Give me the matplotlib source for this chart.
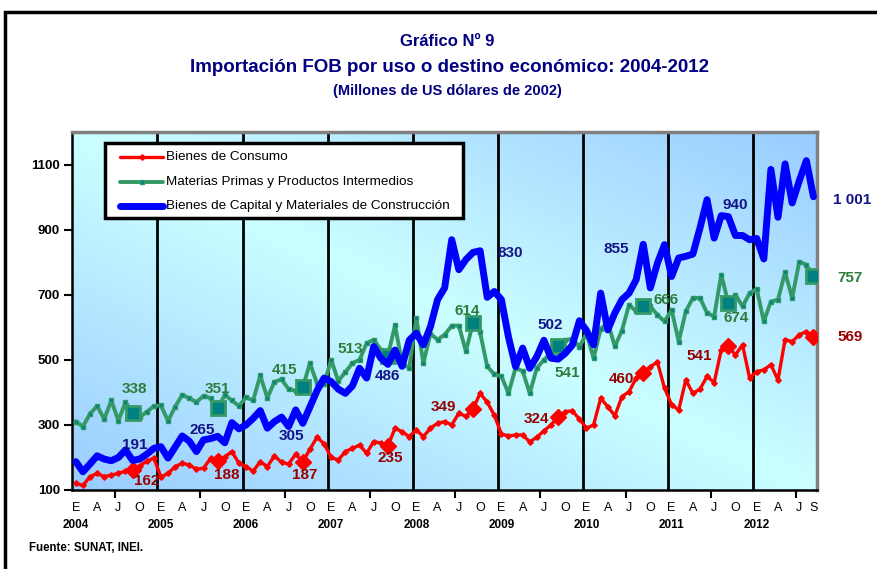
import numpy as np
import matplotlib
matplotlib.use('Agg')
from matplotlib import pyplot as plt
from matplotlib.patches import Rectangle
from matplotlib.lines import Line2D

# Importacion FOB por uso o destino economico, ene-2004 a set-2012
# (millones de US$ de 2002)
consumo = [120, 114, 141, 151, 141, 146, 151, 158, 162, 175, 188, 198,
           140, 151, 172, 182, 177, 164, 167, 197, 188, 202, 218, 182,
           172, 158, 187, 172, 205, 185, 180, 210, 187, 225, 262, 242,
           200, 192, 218, 228, 238, 213, 249, 244, 235, 290, 279, 264,
           285, 264, 290, 305, 310, 300, 336, 326, 349, 397, 370, 330,
           272, 266, 269, 269, 248, 262, 282, 300, 324, 341, 343, 318,
           290, 300, 382, 356, 328, 387, 402, 444, 460, 479, 493, 413,
           362, 346, 438, 397, 410, 449, 430, 531, 541, 515, 546, 444,
           464, 469, 485, 438, 562, 556, 577, 587, 569]

materias = [310, 295, 334, 358, 318, 375, 313, 370, 338, 324, 340, 358,
            360, 312, 356, 392, 382, 370, 389, 382, 351, 392, 375, 358,
            385, 375, 452, 383, 432, 440, 410, 405, 415, 490, 428, 425,
            500, 435, 462, 490, 500, 551, 562, 531, 513, 606, 490, 474,
            628, 490, 580, 562, 577, 605, 605, 526, 614, 584, 480, 455,
            450, 397, 475, 465, 397, 475, 500, 522, 541, 560, 565, 540,
            580, 505, 595, 615, 541, 590, 669, 649, 666, 664, 638, 618,
            654, 556, 649, 690, 690, 644, 633, 762, 674, 700, 664, 705,
            718, 618, 679, 685, 769, 690, 802, 792, 757]

capital = [187, 156, 180, 205, 195, 190, 200, 223, 191, 195, 210, 228,
           233, 198, 232, 266, 250, 218, 254, 258, 265, 245, 307, 288,
           300, 320, 344, 290, 310, 324, 295, 346, 305, 355, 405, 444,
           433, 410, 397, 420, 474, 444, 541, 505, 486, 530, 480, 560,
           582, 546, 602, 685, 721, 869, 777, 808, 830, 835, 692, 710,
           685, 570, 479, 536, 474, 510, 560, 505, 502, 520, 545, 620,
           590, 546, 705, 592, 644, 685, 705, 746, 855, 721, 797, 854,
           756, 813, 818, 825, 905, 992, 874, 943, 940, 882, 882, 869,
           873, 810, 1085, 938, 1102, 982, 1050, 1112, 1001]

anios = ['2004', '2005', '2006', '2007', '2008', '2009', '2010', '2011', '2012']
letras_mes = ['E', 'A', 'J', 'O']
yticks = [100, 300, 500, 700, 900, 1100]
nombres = ['Bienes de Consumo', 'Materias Primas y Productos Intermedios',
           'Bienes de Capital y Materiales de Construcción']

# etiquetas de setiembre: (texto, desplazamiento en pixeles)
etq_consumo = [('162', 14, -11), ('188', 9, -14), ('187', 2, -13), ('235', 2, -12),
               ('349', -30, 2), ('324', -22, -2), ('460', -22, -6), ('541', -29, -10),
               ('569', 37, 0)]
etq_materias = [('338', 2, 24), ('351', 0, 19), ('415', -18, 17), ('513', -38, 7),
                ('614', -6, 12), ('541', 9, -27), ('666', 23, 6), ('674', 8, -15),
                ('757', 37, -2)]
etq_capital = [('191', 2, 15), ('265', -16, 6), ('305', -11, -13), ('486', 0, -12),
               ('830', 37, -1), ('502', -8, 34), ('855', -27, -5), ('940', 7, 12),
               ('1 001', 39, -3)]

rojo = '#FF0000'
verde = '#339966'
azul = '#0000FF'
titulo_c = '#000080'
arial = ['Liberation Sans', 'DejaVu Sans']

W, H = 877, 569


def fx(p):
    return p / W


def fy(p):
    return 1 - p / H


fig = plt.figure(figsize=(W / 100, H / 100), dpi=100)
x0, x1, ytop, ybot = 72.3, 817, 132, 490
ax = fig.add_axes([fx(x0), fy(ybot), fx(x1) - fx(x0), fy(ytop) - fy(ybot)])

# marco exterior
fig.add_artist(Rectangle((fx(5), -0.1), 1.2, fy(12) + 0.1, transform=fig.transFigure,
                         fill=False, edgecolor='black', lw=2.5))

# fondo degradado del area de trazado
gx, gy = np.meshgrid(np.linspace(0, 1, 300), np.linspace(0, 1, 300))
t = np.abs(gx + gy - 1)
c1 = np.array([204, 255, 255]) / 255
c2 = np.array([153, 204, 255]) / 255
img = c1 + (c2 - c1) * t[..., None]
ax.imshow(img, extent=[-0.5, 104.5, 100, 1200], origin='lower', aspect='auto', zorder=0)

n = len(consumo)
x = np.arange(n)
for i in range(1, len(anios)):
    ax.axvline(12 * i - 0.5, color='black', lw=2, zorder=1)

consumo = np.array(consumo)
materias = np.array(materias)
capital = np.array(capital)
sep = np.arange(8, n, 12)

ax.plot(x, consumo, color=rojo, lw=2.4, marker='D', ms=2.8, zorder=3)
ax.plot(sep, consumo[sep], 'D', ms=8, color=rojo, zorder=3.5)
ax.plot(x, materias, color=verde, lw=2.8, marker='s', ms=3.5, mfc='#008080', mec=verde, zorder=4)
ax.plot(sep, materias[sep], 's', ms=10, mfc='#008080', mec=verde, mew=2, zorder=4.5)
ax.plot(x, capital, color=azul, lw=5, solid_capstyle='round', solid_joinstyle='round', zorder=5)

for serie, etq, col in [(consumo, etq_consumo, '#990000'),
                        (materias, etq_materias, '#2D7D3A'),
                        (capital, etq_capital, '#14148A')]:
    for k, (txt, dx, dy) in zip(sep, etq):
        ax.annotate(txt, (k, serie[k]), xytext=(dx, dy), textcoords='offset pixels',
                    ha='center', va='center', fontsize=11, fontweight='bold',
                    color=col, family=arial, zorder=6, annotation_clip=False)

ax.set_xlim(-0.5, n - 0.5)
ax.set_ylim(100, 1200)
ax.set_yticks(yticks)
ax.set_yticklabels([str(v) for v in yticks], fontsize=9.5, fontweight='bold', family=arial)
ax.set_xticks([5.5 + 12 * i for i in range(len(anios))])
ax.set_xticklabels([])
ax.tick_params(axis='both', direction='out', length=6, width=1.5, pad=3)

for s in ['left', 'bottom']:
    ax.spines[s].set_color('black')
    ax.spines[s].set_linewidth(1.8)
for s in ['top', 'right']:
    ax.spines[s].set_color('#808080')
    ax.spines[s].set_linewidth(2.5)

# meses y anios bajo el eje
tr = ax.get_xaxis_transform()
for k in range(0, n - 1, 3):
    ax.text(k, -0.05, letras_mes[(k % 12) // 3], transform=tr, ha='center', va='center',
            fontsize=9, family=arial)
ax.text(n - 1, -0.05, 'S', transform=tr, ha='center', va='center', fontsize=9, family=arial)
for i, a in enumerate(anios):
    ax.text(12 * i, -0.098, a, transform=tr, ha='center', va='center',
            fontsize=8.5, fontweight='bold', family=arial)

# leyenda dibujada a mano
fig.add_artist(Rectangle((fx(105), fy(218)), fx(463) - fx(105), fy(143) - fy(218),
                         transform=fig.transFigure, facecolor='white', edgecolor='black',
                         lw=2.5, zorder=7))
estilos = [dict(color=rojo, lw=2.4), dict(color=verde, lw=2.8), dict(color=azul, lw=5)]
marcas = [dict(marker='D', ms=2.8, color=rojo),
          dict(marker='s', ms=3.5, mfc='#008080', mec=verde), None]
for j, (nom, est, mk) in enumerate(zip(nombres, estilos, marcas)):
    yy = fy(157 + 24.5 * j)
    fig.add_artist(Line2D([fx(120), fx(163)], [yy, yy], transform=fig.transFigure,
                          solid_capstyle='round', zorder=8, **est))
    if mk is not None:
        fig.add_artist(Line2D([fx(141.5)], [yy], transform=fig.transFigure, ls='none',
                              zorder=8.5, **mk))
    fig.text(fx(166), yy, nom, ha='left', va='center', fontsize=9.7, family=arial, zorder=9)

# titulos
fig.text(fx(447), fy(42), 'Gráfico Nº 9', ha='center', va='center', fontsize=12,
         fontweight='bold', color=titulo_c, family=arial)
fig.text(fx(449), fy(67), 'Importación FOB por uso o destino económico: 2004-2012',
         ha='center', va='center', fontsize=13.5, fontweight='bold', color=titulo_c, family=arial)
fig.text(fx(447), fy(91), '(Millones de US dólares de 2002)', ha='center', va='center',
         fontsize=10.5, fontweight='bold', color=titulo_c, family=arial)
fig.text(fx(29), fy(548), 'Fuente: SUNAT, INEI.', ha='left', va='center', fontsize=8.3,
         fontweight='bold', family=arial)

fig.savefig('out.png', dpi=100)
